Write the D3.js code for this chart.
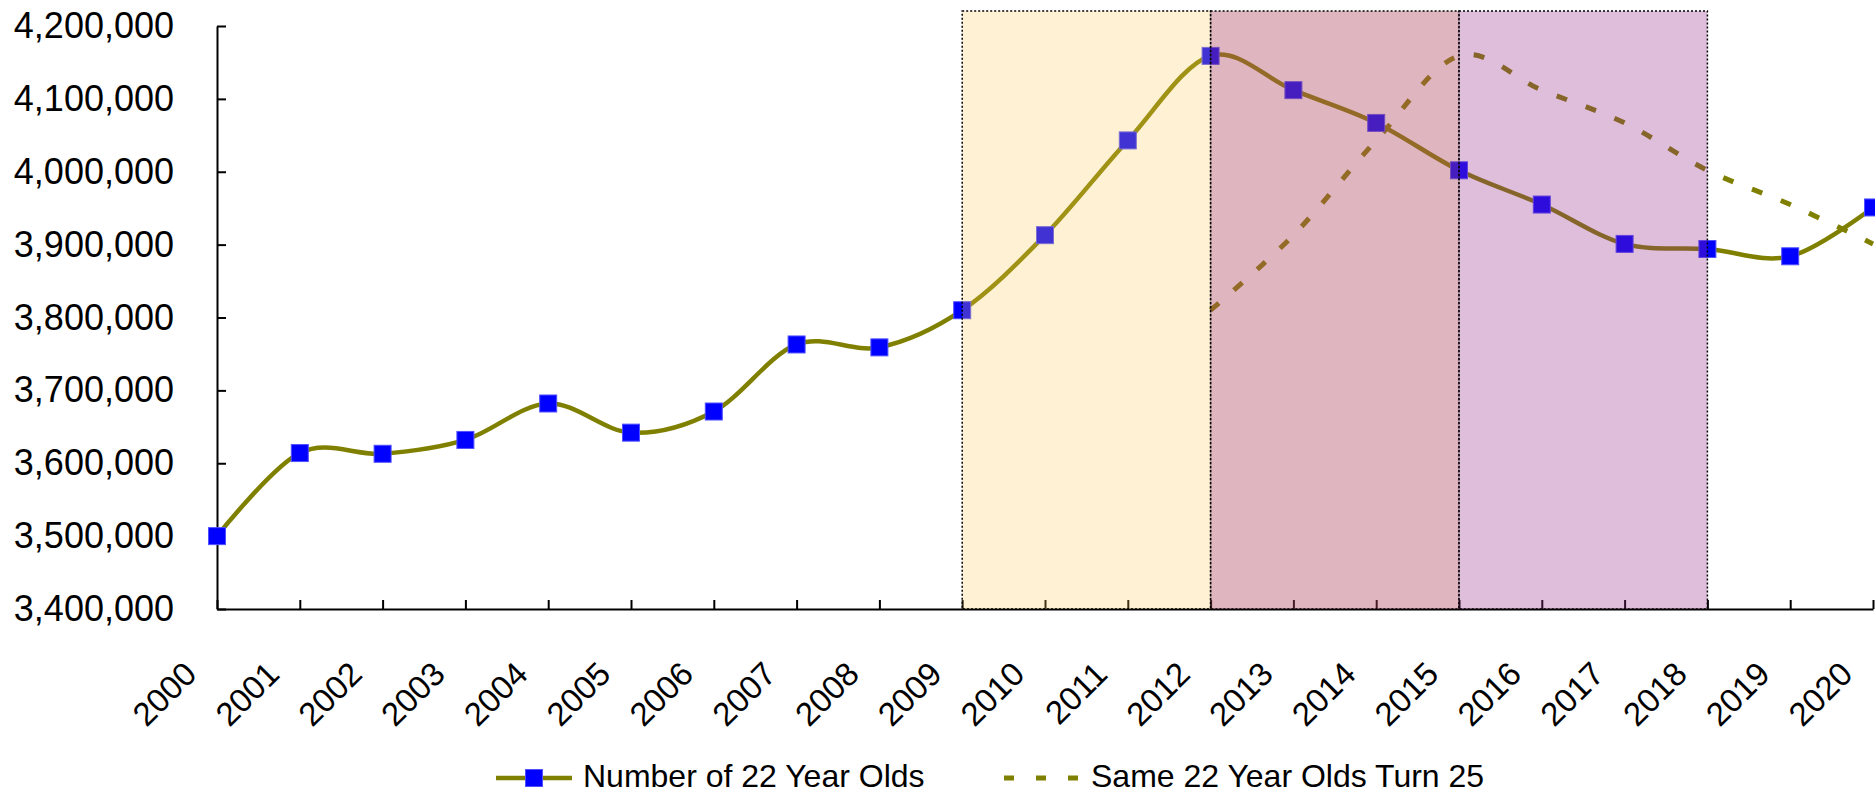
<!DOCTYPE html>
<html>
<head>
<meta charset="utf-8">
<script src="https://cdn.jsdelivr.net/npm/d3@7"></script>
<style>
  body { margin: 0; background: #fff; }
  svg { display: block; font-family: "Liberation Sans", Arial, sans-serif; }
</style>
</head>
<body>
<div id="chart-area"></div>
<script>
// values
const years = d3.range(2000, 2021);
const count22 = [
  3500000, 3614000, 3613000, 3632000, 3682000, 3642000, 3671000,
  3763000, 3759000, 3810000, 3913000, 4043000, 4159000, 4112000,
  4067000, 4002000, 3955000, 3901000, 3894000, 3884000, 3951000
];
const turn25Years = [2012, 2013, 2014, 2015, 2016, 2017, 2018, 2019, 2020];
const turn25 = [3810000, 3913000, 4043000, 4159000, 4112000, 4067000, 4002000, 3955000, 3901000];
const yTicks = [3400000, 3500000, 3600000, 3700000, 3800000, 3900000, 4000000, 4100000, 4200000];
const bandStart = [2009, 2012, 2015];
const bandEnd = [2012, 2015, 2018];
const bandColor = ['rgb(255,200,80)', 'rgb(175,72,95)', 'rgb(150,40,140)'];
const bandOpacity = [0.25, 0.4, 0.3];
const legendLabels = ['Number of 22 Year Olds', 'Same 22 Year Olds Turn 25'];

const width = 1875;
const height = 794;
const margin = { left: 217, right: 2, top: 26, bottom: 185 };
const olive = '#808000';

const svg = d3.select('#chart-area').append('svg')
  .attr('width', width)
  .attr('height', height);

const scaleX = d3.scaleLinear()
  .domain([2000, 2020])
  .range([margin.left, width - margin.right]);

const scaleY = d3.scaleLinear()
  .domain([3400000, 4200000])
  .range([height - margin.bottom, margin.top]);

// axes
const axisY = d3.axisLeft(scaleY)
  .tickValues(yTicks)
  .tickFormat(d3.format(','))
  .tickSizeInner(-9)
  .tickSizeOuter(0)
  .tickPadding(43);

const axisX = d3.axisBottom(scaleX)
  .tickValues(years)
  .tickFormat(d => d)
  .tickSizeInner(-9)
  .tickSizeOuter(0);

const gy = svg.append('g')
  .attr('class', 'y axis')
  .attr('transform', `translate(${margin.left}, 0)`)
  .call(axisY);
gy.selectAll('text')
  .attr('font-size', '36px')
  .attr('fill', '#000');

const gx = svg.append('g')
  .attr('class', 'x axis')
  .attr('transform', `translate(0, ${height - margin.bottom})`)
  .call(axisX);
gx.selectAll('text')
  .attr('x', 0)
  .attr('y', 0)
  .attr('dy', 0)
  .attr('font-size', '33px')
  .attr('fill', '#000')
  .attr('text-anchor', 'end')
  .attr('transform', 'translate(-19, 67) rotate(-45)');

svg.selectAll('.axis path, .axis line')
  .attr('stroke', '#000')
  .attr('stroke-width', 2);

// lines
const line = d3.line()
  .x(d => scaleX(d[0]))
  .y(d => scaleY(d[1]))
  .curve(d3.curveCardinal.tension(0));

svg.append('path')
  .datum(years.map((y, i) => [y, count22[i]]))
  .attr('d', line)
  .attr('fill', 'none')
  .attr('stroke', olive)
  .attr('stroke-width', 4.5);

svg.append('path')
  .datum(turn25Years.map((y, i) => [y, turn25[i]]))
  .attr('d', line)
  .attr('fill', 'none')
  .attr('stroke', olive)
  .attr('stroke-width', 5)
  .attr('stroke-dasharray', '11,20');

const ms = 17;
svg.selectAll('rect.marker')
  .data(years)
  .enter().append('rect')
    .attr('class', 'marker')
    .attr('x', (d, i) => scaleX(d) - ms / 2)
    .attr('y', (d, i) => scaleY(count22[i]) - ms / 2)
    .attr('width', ms)
    .attr('height', ms)
    .attr('fill', '#0000ff')
    .attr('stroke', '#5050ff')
    .attr('stroke-width', 1);

// shaded periods, drawn over the series
const bandTop = margin.top - 15;
svg.selectAll('rect.band')
  .data(bandStart)
  .enter().append('rect')
    .attr('class', 'band')
    .attr('x', d => scaleX(d))
    .attr('y', bandTop)
    .attr('width', (d, i) => scaleX(bandEnd[i]) - scaleX(d))
    .attr('height', scaleY(3400000) - bandTop)
    .attr('fill', (d, i) => bandColor[i])
    .attr('fill-opacity', (d, i) => bandOpacity[i])
    .attr('stroke', '#000')
    .attr('stroke-width', 1.5)
    .attr('stroke-dasharray', '2,2');

// legend
const legY = 778;
const leg = svg.append('g').attr('class', 'legend');

leg.append('line')
  .attr('x1', 496).attr('x2', 572)
  .attr('y1', legY).attr('y2', legY)
  .attr('stroke', olive)
  .attr('stroke-width', 4.5);
leg.append('rect')
  .attr('x', 534 - ms / 2).attr('y', legY - ms / 2)
  .attr('width', ms).attr('height', ms)
  .attr('fill', '#0000ff')
  .attr('stroke', '#5050ff')
  .attr('stroke-width', 1);
leg.append('text')
  .text(legendLabels[0])
  .attr('x', 583)
  .attr('y', 787)
  .attr('font-size', '32px')
  .attr('fill', '#000');

leg.append('line')
  .attr('x1', 1004).attr('x2', 1078)
  .attr('y1', legY).attr('y2', legY)
  .attr('stroke', olive)
  .attr('stroke-width', 5)
  .attr('stroke-dasharray', '10,22');
leg.append('text')
  .text(legendLabels[1])
  .attr('x', 1091)
  .attr('y', 787)
  .attr('font-size', '32px')
  .attr('fill', '#000');
</script>
</body>
</html>
